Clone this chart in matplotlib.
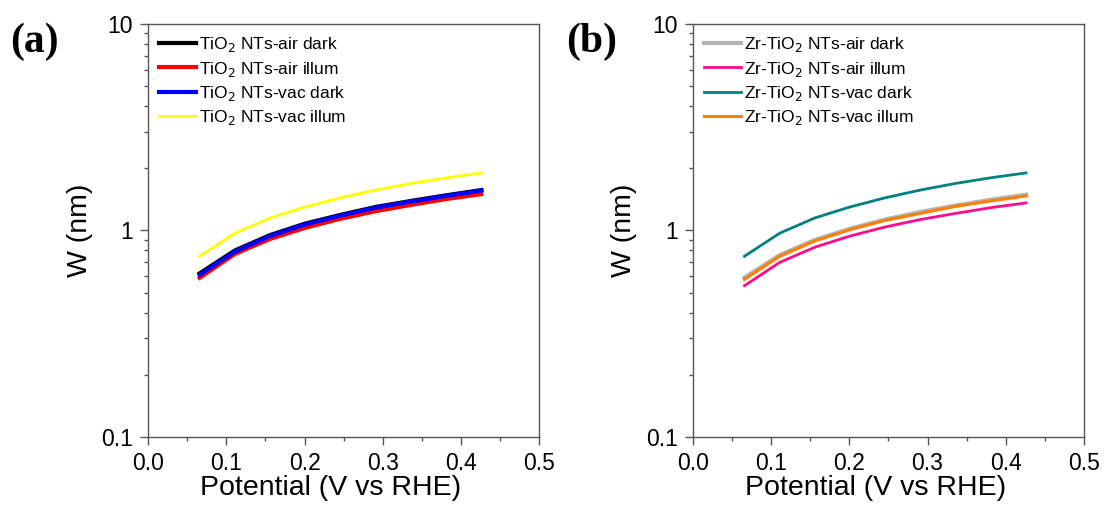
import matplotlib
matplotlib.use("Agg")
import matplotlib.pyplot as plt
from matplotlib.ticker import LogLocator, FixedLocator, NullFormatter, FixedFormatter

plt.rcParams['font.family'] = ['Liberation Sans', 'DejaVu Sans']

potential = [0.066, 0.111, 0.156, 0.201, 0.246, 0.291, 0.336, 0.381, 0.426]

# panel (a): TiO2 NTs
tio2_air_dark = [0.62, 0.80, 0.95, 1.08, 1.19, 1.30, 1.39, 1.48, 1.57]
tio2_air_illum = [0.59, 0.77, 0.91, 1.03, 1.14, 1.24, 1.33, 1.42, 1.50]
tio2_vac_dark = [0.61, 0.79, 0.94, 1.07, 1.18, 1.29, 1.38, 1.47, 1.56]
tio2_vac_illum = [0.75, 0.97, 1.15, 1.30, 1.44, 1.57, 1.69, 1.80, 1.90]

# panel (b): Zr-TiO2 NTs
zr_air_dark = [0.59, 0.76, 0.90, 1.02, 1.13, 1.23, 1.32, 1.41, 1.49]
zr_air_illum = [0.54, 0.70, 0.83, 0.94, 1.04, 1.13, 1.21, 1.29, 1.36]
zr_vac_dark = [0.75, 0.97, 1.15, 1.30, 1.44, 1.57, 1.69, 1.80, 1.90]
zr_vac_illum = [0.58, 0.75, 0.89, 1.01, 1.12, 1.21, 1.31, 1.39, 1.47]

x_ticks = [0.0, 0.1, 0.2, 0.3, 0.4, 0.5]
y_ticks = [0.1, 1, 10]
y_tick_labels = ["0.1", "1", "10"]

panel_a = [
    (tio2_air_dark, "black", 3.0, r"TiO$_2$ NTs-air dark"),
    (tio2_air_illum, "red", 3.0, r"TiO$_2$ NTs-air illum"),
    (tio2_vac_dark, "blue", 3.0, r"TiO$_2$ NTs-vac dark"),
    (tio2_vac_illum, "#ffff00", 2.0, r"TiO$_2$ NTs-vac illum"),
]
panel_b = [
    (zr_air_dark, "#b4b4b4", 3.0, r"Zr-TiO$_2$ NTs-air dark"),
    (zr_air_illum, "#ff0a8c", 2.0, r"Zr-TiO$_2$ NTs-air illum"),
    (zr_vac_dark, "#008080", 2.0, r"Zr-TiO$_2$ NTs-vac dark"),
    (zr_vac_illum, "#ff8000", 2.2, r"Zr-TiO$_2$ NTs-vac illum"),
]

fig = plt.figure(figsize=(11.05, 5.11), dpi=100)
ax_a = fig.add_axes([0.134, 0.145, 0.354, 0.808])
ax_b = fig.add_axes([0.627, 0.145, 0.354, 0.808])

for ax, series, tag, tag_x in [(ax_a, panel_a, "(a)", 0.009), (ax_b, panel_b, "(b)", 0.512)]:
    for vals, color, lw, label in series:
        ax.plot(potential, vals, color=color, lw=lw, label=label)
    ax.set_yscale("log")
    ax.set_xlim(0.0, 0.5)
    ax.set_ylim(0.1, 10)
    ax.xaxis.set_major_locator(FixedLocator(x_ticks))
    ax.xaxis.set_minor_locator(FixedLocator([0.05, 0.15, 0.25, 0.35, 0.45]))
    ax.yaxis.set_major_locator(FixedLocator(y_ticks))
    ax.yaxis.set_major_formatter(FixedFormatter(y_tick_labels))
    ax.yaxis.set_minor_locator(LogLocator(base=10, subs=range(2, 10)))
    ax.yaxis.set_minor_formatter(NullFormatter())
    ax.tick_params(which="major", direction="out", length=6, width=1, color="#555555",
                   labelsize=16.5, pad=5)
    ax.tick_params(which="minor", direction="out", length=3, width=1, color="#555555")
    for sp in ax.spines.values():
        sp.set_color("#555555")
        sp.set_linewidth(1.0)
    ax.set_xlabel("Potential (V vs RHE)", fontsize=20.5)
    ax.xaxis.set_label_coords(0.466, -0.093)
    ax.set_ylabel("W (nm)", fontsize=20.5, labelpad=6)
    ax.legend(loc="upper left", frameon=False, fontsize=12.5, handlelength=2.1,
              handletextpad=0.2, labelspacing=0.3, borderaxespad=0.25,
              bbox_to_anchor=(0.0, 1.0))
    fig.text(tag_x, 0.918, tag, fontsize=30, fontweight="bold",
             family="Liberation Serif", va="center", ha="left")

fig.savefig("out.png", dpi=100)
